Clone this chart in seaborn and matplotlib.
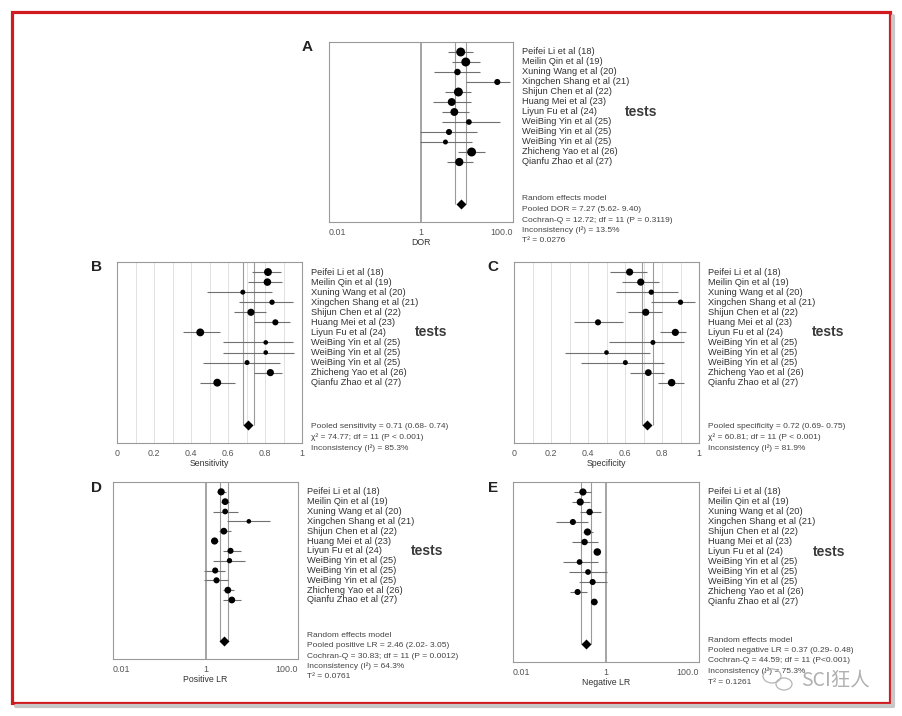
import matplotlib
matplotlib.use('Agg')
import matplotlib.pyplot as plt
from matplotlib.patches import Rectangle, Ellipse
from matplotlib.lines import Line2D
from matplotlib.ticker import NullLocator, MultipleLocator
import seaborn as sns
import pandas as pd

studies = ['Peifei Li et al (18)', 'Meilin Qin et al (19)', 'Xuning Wang et al (20)',
           'Xingchen Shang et al (21)', 'Shijun Chen et al (22)', 'Huang Mei et al (23)',
           'Liyun Fu et al (24)', 'WeiBing Yin et al (25)', 'WeiBing Yin et al (25)',
           'WeiBing Yin et al (25)', 'Zhicheng Yao et al (26)', 'Qianfu Zhao et al (27)']

# A - diagnostic odds ratio
dor = [7.3, 9.4, 6.2, 45.6, 6.5, 4.65, 5.3, 11.0, 4.06, 3.4, 12.6, 6.8]
dor_lo = [3.9, 4.8, 1.9, 9.5, 3.3, 1.85, 2.8, 2.9, 0.95, 0.95, 6.5, 3.7]
dor_hi = [13.7, 19.2, 19.2, 86.0, 12.2, 12.2, 11.0, 52.0, 16.2, 13.0, 24.6, 13.7]
dor_w = [9.0, 9.0, 4.7, 4.2, 9.0, 7.0, 7.0, 3.7, 4.2, 2.8, 9.0, 7.6]
dor_pooled = [7.27, 5.62, 9.40]
dor_text = ['Random effects model', 'Pooled DOR = 7.27 (5.62- 9.40)',
            'Cochran-Q = 12.72; df = 11 (P = 0.3119)', 'Inconsistency (I²) = 13.5%',
            'T² = 0.0276']

# B - sensitivity
sen = [0.816, 0.813, 0.68, 0.838, 0.724, 0.856, 0.45, 0.804, 0.804, 0.703, 0.829, 0.542]
sen_lo = [0.73, 0.71, 0.486, 0.658, 0.63, 0.739, 0.357, 0.573, 0.573, 0.465, 0.739, 0.447]
sen_hi = [0.886, 0.89, 0.838, 0.95, 0.807, 0.933, 0.555, 0.95, 0.955, 0.883, 0.892, 0.64]
sen_w = [7.0, 6.4, 2.8, 3.2, 5.8, 4.2, 7.0, 2.4, 2.4, 2.8, 5.8, 7.0]
sen_pooled = [0.71, 0.68, 0.74]
sen_text = ['Pooled sensitivity = 0.71 (0.68- 0.74)', 'χ² = 74.77; df = 11 (P < 0.001)',
            'Inconsistency (I²) = 85.3%']

# C - specificity
spe = [0.625, 0.685, 0.742, 0.90, 0.712, 0.454, 0.872, 0.751, 0.50, 0.602, 0.726, 0.852]
spe_lo = [0.52, 0.584, 0.553, 0.739, 0.616, 0.324, 0.787, 0.512, 0.276, 0.36, 0.629, 0.778]
spe_hi = [0.72, 0.782, 0.886, 0.98, 0.80, 0.589, 0.93, 0.917, 0.733, 0.809, 0.81, 0.917]
spe_w = [5.8, 5.8, 3.2, 3.2, 5.8, 4.2, 5.8, 2.8, 2.4, 2.8, 5.2, 6.4]
spe_pooled = [0.72, 0.69, 0.75]
spe_text = ['Pooled specificity = 0.72 (0.69- 0.75)', 'χ² = 60.81; df = 11 (P < 0.001)',
            'Inconsistency (I²) = 81.9%']

# D - positive likelihood ratio
plr = [2.18, 2.66, 2.66, 8.65, 2.49, 1.57, 3.47, 3.3, 1.62, 1.73, 3.04, 3.71]
plr_lo = [1.79, 2.18, 1.44, 2.94, 1.94, 1.37, 2.37, 1.44, 0.95, 0.92, 2.37, 2.37]
plr_hi = [2.8, 3.2, 5.17, 25.0, 3.59, 1.85, 5.9, 7.2, 2.66, 3.14, 4.23, 5.9]
plr_w = [5.8, 5.2, 3.7, 2.4, 5.2, 5.8, 4.2, 3.2, 4.2, 4.2, 5.2, 5.2]
plr_pooled = [2.46, 2.02, 3.05]
plr_text = ['Random effects model', 'Pooled positive LR = 2.46 (2.02- 3.05)',
            'Cochran-Q = 30.83; df = 11 (P = 0.0012)', 'Inconsistency (I²) = 64.3%',
            'T² = 0.0761']

# E - negative likelihood ratio
nlr = [0.319, 0.279, 0.444, 0.194, 0.40, 0.346, 0.65, 0.27, 0.41, 0.516, 0.245, 0.56]
nlr_lo = [0.21, 0.184, 0.27, 0.085, 0.319, 0.184, 0.54, 0.118, 0.157, 0.257, 0.165, 0.50]
nlr_hi = [0.475, 0.46, 0.79, 0.42, 0.524, 0.67, 0.755, 0.67, 1.05, 1.05, 0.39, 0.64]
nlr_w = [5.8, 5.8, 4.7, 4.2, 5.8, 4.7, 6.4, 3.7, 3.7, 4.2, 4.2, 5.2]
nlr_pooled = [0.37, 0.29, 0.48]
nlr_text = ['Random effects model', 'Pooled negative LR = 0.37 (0.29- 0.48)',
            'Cochran-Q = 44.59; df = 11 (P<0.001)', 'Inconsistency (I²) = 75.3%',
            'T² = 0.1261']

sns.set_style('white')
plt.rcParams['font.family'] = ['Liberation Sans', 'DejaVu Sans']

W, H = 902, 716
fig = plt.figure(figsize=(W / 100, H / 100), dpi=100)


def px_axes(x0, y0, x1, y1):
    return fig.add_axes([x0 / W, 1 - y1 / H, (x1 - x0) / W, (y1 - y0) / H])


def forest(ax, est, lo, hi, w, pooled, log, xlabel, stats, stats_start, letter, lxy):
    df = pd.DataFrame({'est': est, 'lo': lo, 'hi': hi, 'w': w})
    df['row'] = range(1, len(df) + 1)
    prow = 16.2

    if log:
        ax.set_xscale('log')
        ax.set_xlim(0.01, 100)
        ax.axvline(1, color='#8c8c8c', lw=1.1, zorder=1)
    else:
        ax.set_xlim(0, 1)
        ax.xaxis.set_minor_locator(MultipleLocator(0.1))
        ax.grid(True, axis='x', which='both', color='#e2e2e2', lw=0.7)

    # pooled CI band
    ax.vlines([pooled[1], pooled[2]], 0, prow, color='#9a9a9a', lw=0.8, zorder=1)
    # study CIs
    ax.hlines(df['row'], df['lo'], df['hi'], color='#707070', lw=0.8, zorder=2)
    sns.scatterplot(data=df, x='est', y='row', size='w', sizes=(0, 46), size_norm=(0, 10),
                    color='black', linewidth=0, legend=False, ax=ax, zorder=3)
    sns.scatterplot(x=[pooled[0]], y=[prow], marker='D', s=26, color='black',
                    linewidth=0, ax=ax, zorder=3)

    ax.set_ylim(18, 0)
    ax.set_yticks([])
    ax.set_ylabel('')

    if log:
        ax.xaxis.set_minor_locator(NullLocator())
        ax.set_xticks([0.01, 1, 100])
        ax.set_xticklabels(['0.01', '1', '100.0'])
        lbls = ax.get_xticklabels()
        lbls[0].set_ha('left')
        lbls[-1].set_ha('right')
    else:
        ax.set_xticks([0, 0.2, 0.4, 0.6, 0.8, 1])
        ax.set_xticklabels(['0', '0.2', '0.4', '0.6', '0.8', '1'])
    ax.tick_params(axis='x', length=0, pad=4, labelsize=6.4, labelcolor='#555555')
    ax.set_xlabel(xlabel, fontsize=6.3, color='#333333', labelpad=1)

    for s in ax.spines.values():
        s.set_color('#9a9a9a')
        s.set_linewidth(0.8)

    tr = ax.get_yaxis_transform()
    for i, name in enumerate(studies):
        ax.text(1.048, i + 1, name, transform=tr, fontsize=6.7, color='#333333',
                va='center', ha='left')
    ax.text(1.61, 7, 'tests', transform=tr, fontsize=10, color='#3a3a3a',
            va='center', ha='left', fontweight='bold')
    for i, line in enumerate(stats):
        ax.text(1.048, stats_start + i * 1.05, line, transform=tr, fontsize=6.0,
                color='#444444', va='center', ha='left', clip_on=False)

    fig.text(lxy[0] / W, 1 - lxy[1] / H, letter, fontsize=11, fontweight='bold',
             ha='center', va='center', color='#222222')


axA = px_axes(329, 42, 513, 222)
forest(axA, dor, dor_lo, dor_hi, dor_w, dor_pooled, True, 'DOR', dor_text, 15.7, 'A', (307, 47))

axB = px_axes(117, 262, 302, 443)
forest(axB, sen, sen_lo, sen_hi, sen_w, sen_pooled, False, 'Sensitivity', sen_text, 16.4, 'B', (97, 267))

axC = px_axes(514, 262, 699, 443)
forest(axC, spe, spe_lo, spe_hi, spe_w, spe_pooled, False, 'Specificity', spe_text, 16.4, 'C', (493, 267))

axD = px_axes(113, 482, 298, 659)
forest(axD, plr, plr_lo, plr_hi, plr_w, plr_pooled, True, 'Positive LR', plr_text, 15.6, 'D', (97, 488))

axE = px_axes(513, 482, 699, 662)
forest(axE, nlr, nlr_lo, nlr_hi, nlr_w, nlr_pooled, True, 'Negative LR', nlr_text, 15.8, 'E', (493, 488))

# red frame with soft shadow
fig.add_artist(Line2D([893 / W, 893 / W], [1 - 16 / H, 1 - 706 / H], transform=fig.transFigure,
                      color='#c8c8c8', lw=3))
fig.add_artist(Line2D([16 / W, 893 / W], [1 - 706 / H, 1 - 706 / H], transform=fig.transFigure,
                      color='#c8c8c8', lw=3))
fig.add_artist(Rectangle((12 / W, 1 - 703 / H), 878 / W, 691 / H, transform=fig.transFigure,
                         fill=False, ec='#d11a1f', lw=2.3))

# watermark
fig.add_artist(Ellipse((772 / W, 1 - 676 / H), 18 / W, 14 / H, transform=fig.transFigure,
                       fill=False, ec='#b5b5b5', lw=0.9))
fig.add_artist(Ellipse((784 / W, 1 - 684 / H), 16 / W, 12 / H, transform=fig.transFigure,
                       fill=False, ec='#b5b5b5', lw=0.9))
fig.text(835 / W, 1 - 680 / H, 'SCI狂人', fontsize=14, color='#b0b0b0', ha='center', va='center',
         family=['Noto Sans CJK SC', 'DejaVu Sans'])

fig.savefig('out.png', dpi=100)
